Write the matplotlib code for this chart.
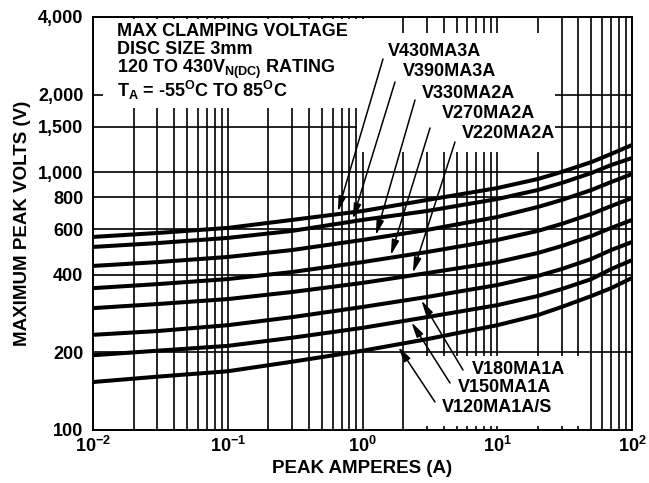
import numpy as np
import matplotlib
matplotlib.use("Agg")
import matplotlib.pyplot as plt
from matplotlib.patches import Rectangle

plt.rcParams['font.family'] = ['Liberation Sans', 'DejaVu Sans']
plt.rcParams['font.weight'] = 'bold'
plt.rcParams['mathtext.fontset'] = 'custom'
plt.rcParams['mathtext.rm'] = 'Liberation Sans:bold'
plt.rcParams['mathtext.it'] = 'Liberation Sans:bold'
plt.rcParams['mathtext.bf'] = 'Liberation Sans:bold'

# ---- data ----
current = [0.01, 0.03, 0.1, 0.3, 1, 3, 10, 20, 30, 50, 70, 100]
v430 = [561, 581, 608, 653, 707, 780, 868, 941, 1002, 1095, 1177, 1275]
v390 = [513, 531, 556, 592, 653, 707, 787, 853, 908, 993, 1066, 1135]
v330 = [433, 448, 469, 499, 546, 597, 670, 733, 780, 853, 916, 984]
v270 = [355, 368, 385, 410, 448, 490, 546, 592, 630, 689, 739, 794]
v220 = [297, 308, 322, 343, 372, 406, 448, 486, 517, 566, 608, 653]
v180 = [234, 242, 255, 274, 300, 328, 365, 396, 421, 461, 499, 536]
v150 = [195, 203, 212, 228, 249, 274, 305, 331, 352, 385, 421, 456]
v120 = [153.5, 161, 169, 184, 203, 225, 255, 279, 300, 331, 355, 389]
series = [v430, v390, v330, v270, v220, v180, v150, v120]
names = ["V430MA3A", "V390MA3A", "V330MA2A", "V270MA2A", "V220MA2A",
         "V180MA1A", "V150MA1A", "V120MA1A/S"]
arrow_current = [0.647, 0.836, 1.24, 1.6, 2.33, 2.67, 2.25, 1.8]

yticks = [100, 200, 400, 600, 800, 1000, 1500, 2000, 4000]
ytick_labels = ["100", "200", "400", "600", "800", "1,000", "1,500", "2,000", "4,000"]
xticks = [1e-2, 1e-1, 1e0, 1e1, 1e2]
xtick_labels = [r"$10^{-2}$", r"$10^{-1}$", r"$10^{0}$", r"$10^{1}$", r"$10^{2}$"]

fig = plt.figure(figsize=(6.49, 4.83), dpi=100)
ax = fig.add_axes([93/649, 1-430/483, 539/649, 413/483])
ax.set_xscale('log')
ax.set_yscale('log')
ax.set_xlim(1e-2, 1e2)
ax.set_ylim(100, 4000)

ax.set_yticks(yticks)
ax.set_yticklabels(ytick_labels)
ax.yaxis.set_minor_locator(matplotlib.ticker.NullLocator())
ax.set_xticks(xticks)
ax.set_xticklabels(xtick_labels)
ax.xaxis.set_minor_locator(matplotlib.ticker.LogLocator(base=10, subs=np.arange(2, 10)))
ax.xaxis.set_minor_formatter(matplotlib.ticker.NullFormatter())
ax.tick_params(which='both', length=0)
ax.tick_params(axis='y', pad=7, labelsize=13)
ax.tick_params(axis='x', pad=4, labelsize=13)

ax.grid(which='both', axis='x', color='black', linewidth=1.2, zorder=0.5)
ax.grid(which='major', axis='y', color='black', linewidth=1.2, zorder=0.5)
ax.set_axisbelow(True)
for s in ax.spines.values():
    s.set_linewidth(1.4)
    s.set_zorder(6)

# white areas behind the text blocks
for (x0, y0, x1, y1) in [(103, 19, 365, 108), (357, 33, 555, 152), (410, 356, 580, 426)]:
    ax.add_patch(Rectangle(((x0-93)/539, (430-y1)/413), (x1-x0)/539, (y1-y0)/413,
                           transform=ax.transAxes, facecolor='white', edgecolor='none', zorder=1))

for v in series:
    ax.plot(current, v, color='black', linewidth=2.9, solid_capstyle='butt',
            solid_joinstyle='round', zorder=3)

ax.set_xlabel("PEAK AMPERES (A)", fontsize=13.5, fontweight='bold', labelpad=3)
ax.set_ylabel("MAXIMUM PEAK VOLTS (V)", fontsize=13.5, fontweight='bold', labelpad=5)

info = ["MAX CLAMPING VOLTAGE", "DISC SIZE 3mm",
        r"120 TO 430V$_{N(DC)}$ RATING", r"T$_{A}$ = -55$^{O}$C TO 85$^{O}$C"]
info_y = [32, 50, 69, 90]
for t, yy in zip(info, info_y):
    ax.text((117-93)/539, (430-yy)/413, t, transform=ax.transAxes, fontsize=13,
            fontweight='bold', ha='left', va='center', zorder=5)

label_pos = [(388, 52), (403, 72), (422, 93), (442, 113), (462, 134),
             (472, 370), (458, 388), (442, 407)]
arrow_start = [(383, 59), (395, 82), (415, 100), (430, 128), (455, 142),
               (463, 370), (450, 383), (435, 402)]
for name, v, ic, (lx, ly), (sx, sy) in zip(names, series, arrow_current, label_pos, arrow_start):
    ax.text((lx-93)/539, (430-ly)/413, name, transform=ax.transAxes, fontsize=13,
            fontweight='bold', ha='left', va='center', zorder=5)
    vt = 10**np.interp(np.log10(ic), np.log10(current), np.log10(v))
    ax.annotate("", xy=(ic, vt), xycoords='data',
                xytext=((sx-93)/539, (430-sy)/413), textcoords='axes fraction',
                arrowprops=dict(arrowstyle='-|>,head_length=0.9,head_width=0.22',
                                color='black', lw=1.1, shrinkA=0, shrinkB=2),
                zorder=5)

fig.savefig("out.png", dpi=100)
